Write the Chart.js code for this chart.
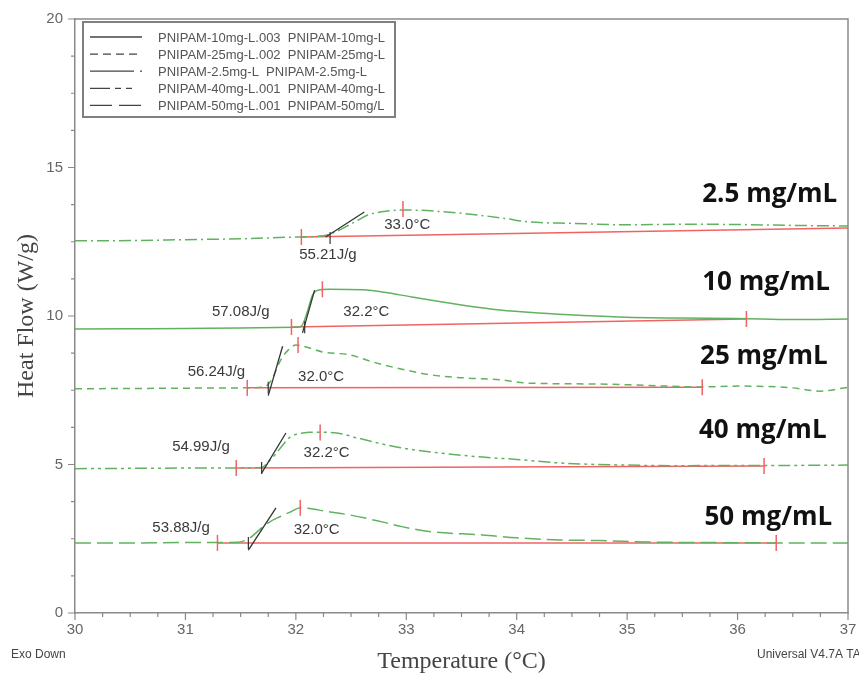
<!DOCTYPE html>
<html><head><meta charset="utf-8">
<script src="https://cdn.jsdelivr.net/npm/chart.js@4.4.1/dist/chart.umd.min.js"></script>
<style>html,body{margin:0;padding:0;background:#fff;}#wrap{width:859px;height:679px;}</style>
</head><body><div id="wrap"><canvas id="c" width="859" height="679"></canvas></div>
<script>
// ---- data (Temperature °C / Heat Flow W/g) ----
const t2p5 = [30, 30.5, 31, 31.5, 32, 32.25, 32.35, 32.45, 32.55, 32.65, 32.8, 33.0, 33.3, 33.65, 33.9, 34.1, 34.5, 35, 35.5, 36, 36.5, 37];
const hf2p5 = [12.53, 12.54, 12.57, 12.6, 12.66, 12.70, 12.82, 13.0, 13.2, 13.4, 13.52, 13.57, 13.52, 13.4, 13.28, 13.17, 13.12, 13.07, 13.09, 13.08, 13.05, 13.03];
const t10 = [30, 30.5, 31, 31.5, 32, 32.05, 32.1, 32.15, 32.2, 32.3, 32.6, 32.8, 33.05, 33.5, 33.85, 34.2, 34.6, 35, 35.5, 36, 36.5, 37];
const hf10 = [9.56, 9.57, 9.58, 9.6, 9.62, 9.66, 10.1, 10.7, 10.87, 10.9, 10.88, 10.8, 10.64, 10.37, 10.2, 10.1, 10.02, 9.96, 9.93, 9.92, 9.88, 9.9];
const t25 = [30, 30.5, 31, 31.5, 31.7, 31.75, 31.8, 31.86, 31.93, 32.0, 32.1, 32.24, 32.49, 32.7, 32.91, 33.24, 33.55, 33.85, 34.1, 34.75, 35.2, 35.66, 36.0, 36.5, 36.75, 37];
const hf25 = [7.55, 7.56, 7.57, 7.58, 7.6, 7.7, 8.0, 8.5, 8.85, 9.02, 8.95, 8.79, 8.69, 8.45, 8.25, 8.01, 7.91, 7.85, 7.74, 7.71, 7.66, 7.61, 7.64, 7.58, 7.47, 7.6];
const t40 = [30, 30.5, 31, 31.5, 31.69, 31.75, 31.81, 31.88, 31.95, 32.05, 32.13, 32.37, 32.55, 32.91, 33.3, 33.69, 34.0, 34.39, 35.0, 35.5, 36, 36.5, 37];
const hf40 = [4.86, 4.87, 4.88, 4.88, 4.9, 5.08, 5.32, 5.65, 5.93, 6.05, 6.09, 6.06, 5.9, 5.59, 5.39, 5.25, 5.17, 5.05, 4.98, 4.96, 4.97, 4.97, 4.98];
const t50 = [30, 30.5, 31, 31.47, 31.58, 31.67, 31.76, 31.86, 31.95, 32.04, 32.31, 32.49, 32.79, 32.97, 33.24, 33.69, 34.0, 34.39, 34.75, 35.2, 35.8, 36.4, 37];
const hf50 = [2.36, 2.36, 2.37, 2.38, 2.52, 2.8, 3.06, 3.25, 3.4, 3.54, 3.40, 3.30, 3.06, 2.9, 2.73, 2.63, 2.53, 2.46, 2.44, 2.39, 2.37, 2.36, 2.36];

// integration baselines (2.5, 10, 25, 40, 50 mg/mL)
const baseStartT = [32.05, 31.96, 31.56, 31.46, 31.29];
const baseStartHF = [12.66, 9.63, 7.58, 4.88, 2.36];
const baseEndT = [37, 36.08, 35.68, 36.24, 36.35];
const baseEndHF = [12.96, 9.9, 7.6, 4.95, 2.36];
const baseEndMarked = [false, true, true, true, true];
const peakT = [32.97, 32.24, 32.02, 32.22, 32.04];
const peakHF = [13.6, 10.9, 9.02, 6.08, 3.54];
// onset tangents
const tanStartT = [32.27, 32.06, 31.75, 31.69, 31.57];
const tanStartHF = [12.66, 9.43, 7.32, 4.71, 2.12];
const tanEndT = [32.62, 32.17, 31.88, 31.91, 31.82];
const tanEndHF = [13.5, 10.87, 8.98, 6.06, 3.54];
const onsetT = [32.31, 32.08, 31.75, 31.69, 31.57];
const onsetHF = [12.63, 9.62, 7.58, 4.88, 2.36];
// annotation texts
const enthalpyText = ['55.21J/g', '57.08J/g', '56.24J/g', '54.99J/g', '53.88J/g'];
const enthalpyT = [32.03, 31.24, 31.02, 30.88, 30.70];
const enthalpyHF = [12.05, 10.13, 8.11, 5.59, 2.86];
const peakText = ['33.0°C', '32.2°C', '32.0°C', '32.2°C', '32.0°C'];
const peakTextT = [32.80, 32.43, 32.02, 32.07, 31.98];
const peakTextHF = [13.06, 10.13, 7.95, 5.39, 2.79];
const concText = ['2.5 mg/mL', '10 mg/mL', '25 mg/mL', '40 mg/mL', '50 mg/mL'];
const concT = [35.68, 35.68, 35.66, 35.65, 35.7];
const concHF = [13.84, 10.88, 8.38, 5.89, 2.96];
// legend
const legendText = ['PNIPAM-10mg-L.003  PNIPAM-10mg-L', 'PNIPAM-25mg-L.002  PNIPAM-25mg-L', 'PNIPAM-2.5mg-L  PNIPAM-2.5mg-L', 'PNIPAM-40mg-L.001  PNIPAM-40mg-L', 'PNIPAM-50mg-L.001  PNIPAM-50mg/L'];
const xTicks = [30, 31, 32, 33, 34, 35, 36, 37];
const yTicks = [0, 5, 10, 15, 20];

const GREEN = 'rgb(96,178,96)';
const RED = 'rgb(242,98,98)';
const DARK = '#333';
const curveDash = [[12,4,2,4], [], [7,5], [12,4,3,4,3,4], [16,6]];
const legendDash = [[], [8,5], [44,6,2,60], [20,5,6,5,6,60], [22,7,22,60]];

const curves = [[t2p5, hf2p5], [t10, hf10], [t25, hf25], [t40, hf40], [t50, hf50]];
const pts = (xs, ys) => xs.map((x, i) => ({x, y: ys[i]}));

const datasets = [];
curves.forEach(([xs, ys], i) => {
  datasets.push({label: concText[i], data: pts(xs, ys), borderColor: GREEN, borderWidth: 1.5,
    borderDash: curveDash[i], pointRadius: 0, cubicInterpolationMode: 'monotone', fill: false, order: 3});
});
for (let i = 0; i < 5; i++) {
  datasets.push({label: 'base' + i, data: [{x: baseStartT[i], y: baseStartHF[i]}, {x: baseEndT[i], y: baseEndHF[i]}],
    borderColor: RED, borderWidth: 1.5, pointRadius: 0, order: 4});
  datasets.push({label: 'tan' + i, data: [{x: tanStartT[i], y: tanStartHF[i]}, {x: tanEndT[i], y: tanEndHF[i]}],
    borderColor: DARK, borderWidth: 1.3, pointRadius: 0, order: 1});
}
const redMarks = [];
for (let i = 0; i < 5; i++) {
  redMarks.push({x: baseStartT[i], y: baseStartHF[i]});
  redMarks.push({x: peakT[i], y: peakHF[i]});
  if (baseEndMarked[i]) redMarks.push({x: baseEndT[i], y: baseEndHF[i]});
}
datasets.push({type: 'scatter', label: 'marks', data: redMarks, showLine: false, pointStyle: 'line', rotation: 90,
  pointRadius: 8, pointBorderColor: RED, pointBorderWidth: 1.5, order: 0});
datasets.push({type: 'scatter', label: 'onset', data: pts(onsetT, onsetHF), showLine: false, pointStyle: 'line', rotation: 90,
  pointRadius: 6, pointBorderColor: DARK, pointBorderWidth: 1.2, order: 0});

const AXIS = '#8a8a8a';
const decor = {
  id: 'decor',
  afterDraw(chart) {
    const {ctx, chartArea: a, scales: {x, y}} = chart;
    ctx.save();
    // frame top/right
    ctx.strokeStyle = AXIS; ctx.lineWidth = 1.5;
    ctx.beginPath(); ctx.moveTo(a.left, a.top); ctx.lineTo(a.right, a.top); ctx.lineTo(a.right, a.bottom); ctx.stroke();
    // ticks
    ctx.lineWidth = 1.2;
    ctx.beginPath();
    for (let v = 30; v <= 37.001; v += 0.25) {
      const px = x.getPixelForValue(v); const maj = Math.abs(v - Math.round(v)) < 1e-6;
      ctx.moveTo(px, a.bottom); ctx.lineTo(px, a.bottom + (maj ? 7 : 4));
    }
    for (let v = 0; v <= 20.001; v += 1.25) {
      const py = y.getPixelForValue(v); const maj = Math.abs(v / 5 - Math.round(v / 5)) < 1e-6;
      ctx.moveTo(a.left, py); ctx.lineTo(a.left - (maj ? 7 : 4), py);
    }
    ctx.stroke();
    // legend box
    const lx = 83, ly = 22, lw = 312, lh = 95;
    ctx.fillStyle = '#fff'; ctx.fillRect(lx, ly, lw, lh);
    ctx.strokeStyle = '#808080'; ctx.lineWidth = 2; ctx.strokeRect(lx, ly, lw, lh);
    ctx.save(); ctx.beginPath(); ctx.rect(lx, ly, lw - 1, lh); ctx.clip();
    ctx.font = '13px "Liberation Sans", Arial, sans-serif'; ctx.fillStyle = '#555'; ctx.textBaseline = 'middle'; ctx.textAlign = 'left';
    legendText.forEach((t, i) => {
      const yy = 37 + i * 17.1;
      ctx.strokeStyle = '#444'; ctx.lineWidth = 1.3; ctx.setLineDash(legendDash[i]);
      ctx.beginPath(); ctx.moveTo(90, yy); ctx.lineTo(142, yy); ctx.stroke(); ctx.setLineDash([]);
      ctx.fillText(t, 158, yy + 1);
    });
    ctx.restore();
    // annotations
    ctx.font = '15px "Liberation Sans", Arial, sans-serif'; ctx.fillStyle = '#3a3a3a'; ctx.textBaseline = 'middle'; ctx.textAlign = 'left';
    for (let i = 0; i < 5; i++) {
      ctx.fillText(enthalpyText[i], x.getPixelForValue(enthalpyT[i]), y.getPixelForValue(enthalpyHF[i]));
      ctx.fillText(peakText[i], x.getPixelForValue(peakTextT[i]), y.getPixelForValue(peakTextHF[i]));
    }
    ctx.font = 'bold 26px "Open Sans", sans-serif'; ctx.fillStyle = '#111'; ctx.textBaseline = 'alphabetic';
    for (let i = 0; i < 5; i++) ctx.fillText(concText[i], x.getPixelForValue(concT[i]), y.getPixelForValue(concHF[i]));
    // footer
    ctx.font = '12px "Liberation Sans", Arial, sans-serif'; ctx.fillStyle = '#444'; ctx.textBaseline = 'middle';
    ctx.fillText('Exo Down', 11, 655);
    ctx.fillText('Universal V4.7A TA', 757, 655);
    ctx.restore();
  }
};

new Chart(document.getElementById('c'), {
  type: 'line',
  data: {datasets},
  options: {
    responsive: false, animation: false, devicePixelRatio: 1,
    layout: {padding: {top: 19, right: 11, left: 0, bottom: 0}},
    plugins: {legend: {display: false}, tooltip: {enabled: false}},
    scales: {
      x: {type: 'linear', min: 30, max: 37, position: 'bottom',
        afterBuildTicks: s => { s.ticks = xTicks.map(v => ({value: v})); },
        afterFit: s => { s.height = 66; s.paddingLeft = 0; s.paddingRight = 0; },
        grid: {display: false, drawTicks: false}, border: {display: true, color: AXIS, width: 1.5},
        ticks: {color: '#666', padding: 8, maxRotation: 0, font: {family: '"Liberation Sans", Arial, sans-serif', size: 15}},
        title: {display: true, text: 'Temperature (°C)', color: '#444', padding: {top: 0, bottom: 3},
          font: {family: '"Liberation Serif", "Times New Roman", serif', size: 24, lineHeight: 1.2}}},
      y: {type: 'linear', min: 0, max: 20,
        afterBuildTicks: s => { s.ticks = yTicks.map(v => ({value: v})); },
        afterFit: s => { s.width = 75; s.paddingTop = 0; s.paddingBottom = 0; },
        grid: {display: false, drawTicks: false}, border: {display: true, color: AXIS, width: 1.5},
        ticks: {color: '#666', padding: 12, font: {family: '"Liberation Sans", Arial, sans-serif', size: 15}},
        title: {display: true, text: 'Heat Flow (W/g)', color: '#444', padding: {top: 12, bottom: 0},
          font: {family: '"Liberation Serif", "Times New Roman", serif', size: 24, lineHeight: 1.2}}}
    }
  },
  plugins: [decor]
});
</script></body></html>
